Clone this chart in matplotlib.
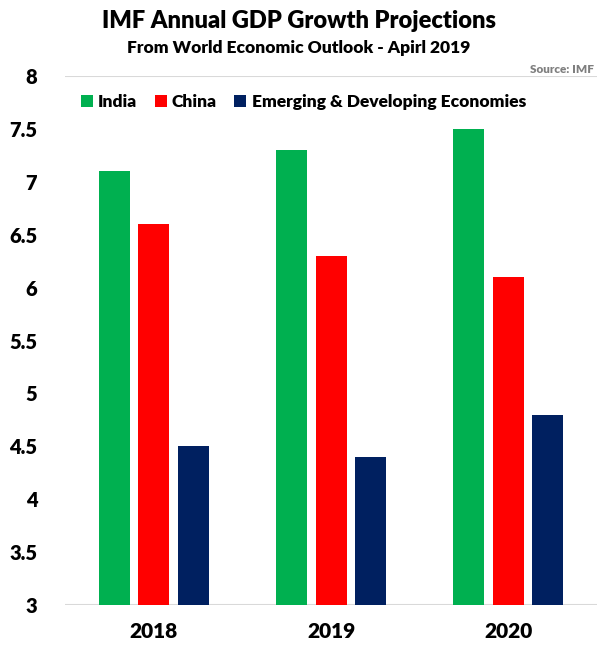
import numpy as np
import matplotlib
matplotlib.use('Agg')
import matplotlib.pyplot as plt

plt.rcParams['font.family'] = ['Lato', 'DejaVu Sans']

years = ['2018', '2019', '2020']
india = [7.1, 7.3, 7.5]
china = [6.6, 6.3, 6.1]
emerging = [4.5, 4.4, 4.8]
series_names = ['India', 'China', 'Emerging & Developing Economies']
colors = ['#00B050', '#FF0000', '#002060']

fig = plt.figure(figsize=(5.97, 6.46), dpi=100)
ax = fig.add_axes([0.109, 0.0635, 0.891, 0.8185])

x = np.arange(len(years))
width = 0.175
step = 0.222
for i, (vals, name, c) in enumerate(zip([india, china, emerging], series_names, colors)):
    ax.bar(x + (i - 1) * step, np.array(vals) - 3, width, bottom=3, color=c, label=name, zorder=3)

ax.set_ylim(3, 8)
ax.set_xlim(-0.5, 2.5)
ax.set_yticks(np.arange(3, 8.01, 0.5))
ax.set_yticklabels(['3', '3.5', '4', '4.5', '5', '5.5', '6', '6.5', '7', '7.5', '8'])
ax.set_xticks(x)
ax.set_xticklabels(years)
for lbl in ax.get_yticklabels():
    lbl.set_fontweight('heavy')
    lbl.set_fontsize(14.5)
for lbl in ax.get_xticklabels():
    lbl.set_fontweight('heavy')
    lbl.set_fontsize(15)
ax.tick_params(axis='both', length=0)
ax.tick_params(axis='y', pad=20)
ax.tick_params(axis='x', pad=12)
for s in ax.spines.values():
    s.set_visible(False)
ax.axhline(3, color='#D9D9D9', lw=1.5, zorder=2)
ax.axhline(8, color='#D9D9D9', lw=1.5, zorder=2)

leg = ax.legend(loc='upper left', bbox_to_anchor=(0.0, 0.995), ncol=3, frameon=False,
                handlelength=0.7, handleheight=0.7, handletextpad=0.3, columnspacing=1.0,
                prop={'weight': 'heavy', 'size': 12.5})

fig.text(0.5, 0.968, 'IMF Annual GDP Growth Projections', ha='center', va='center',
         fontsize=17, fontweight='heavy')
fig.text(0.5, 0.926, 'From World Economic Outlook - Apirl 2019', ha='center', va='center',
         fontsize=12.5, fontweight='heavy')
fig.text(0.995, 0.893, 'Source: IMF', ha='right', va='center', fontsize=8.5,
         fontweight='heavy', color='#7F7F7F')

plt.savefig('out.png', dpi=100)
